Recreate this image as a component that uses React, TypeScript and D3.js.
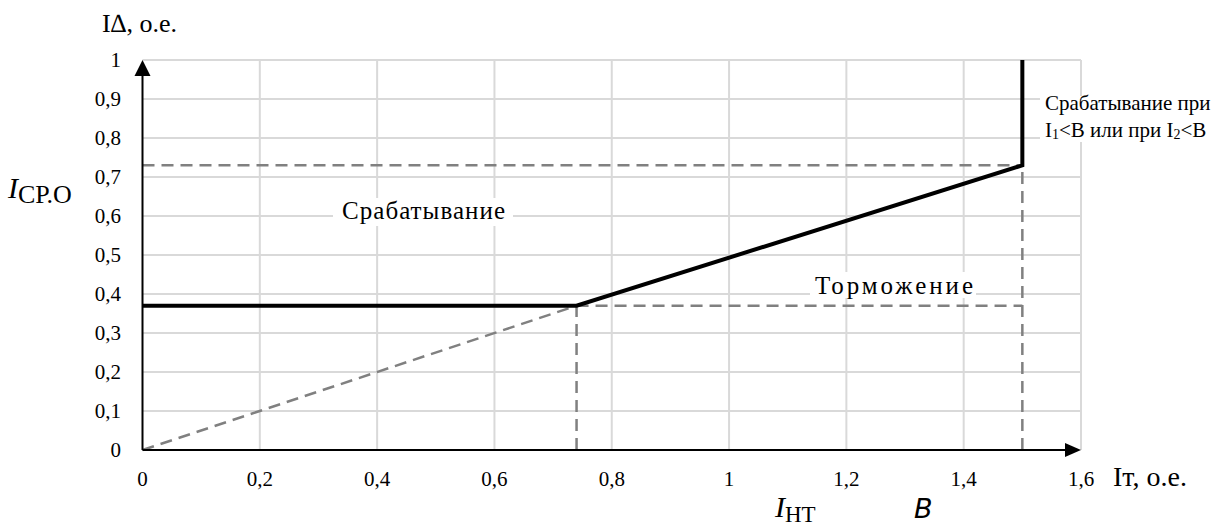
import React from "react";
import * as d3 from "d3";

const xTicks = [0, 0.2, 0.4, 0.6, 0.8, 1, 1.2, 1.4, 1.6];
const yTicks = [0, 0.1, 0.2, 0.3, 0.4, 0.5, 0.6, 0.7, 0.8, 0.9, 1];
// Characteristic (solid)
const charX = [0, 0.74, 1.5, 1.5];
const charY = [0.37, 0.37, 0.73, 1.0];
// Dashed construction lines
const slopeLine = [[0, 0], [0.74, 0.37]];
const dashH1 = [[0, 0.73], [1.5, 0.73]];
const dashH2 = [[0.74, 0.37], [1.5, 0.37]];
const dashV1 = [[0.74, 0], [0.74, 0.37]];
const dashV2 = [[1.5, 0], [1.5, 0.73]];

const W = 1214, H = 528;
const fmt = (v: number) => (v === 0 ? "0" : String(+v.toFixed(1)).replace(".", ","));
const SERIF = "Liberation Serif";
const st = (size: number, extra: any = {}) => ({ fontFamily: SERIF, fontSize: size + "px", ...extra });

export default function App() {
  const x = d3.scaleLinear().domain([0, 1.6]).range([142.5, 1081]);
  const y = d3.scaleLinear().domain([0, 1]).range([450, 60]);
  const line = d3.line<number[]>().x((d) => x(d[0])).y((d) => y(d[1]));
  const charPts = charX.map((v, i) => [v, charY[i]]);
  const dashed = [slopeLine, dashH1, dashH2, dashV1, dashV2];
  return (
    <svg width={W} height={H} style={{ position: "absolute", left: 0, top: 0, background: "#fff" }}>
      <rect x={0} y={0} width={W} height={H} fill="#fff" />
      {/* grid */}
      {xTicks.filter((t) => t > 0).map((t) => (
        <line key={"gx" + t} x1={x(t)} x2={x(t)} y1={y(1)} y2={y(0)} stroke="#d9d9d9" strokeWidth={2} />
      ))}
      {yTicks.filter((t) => t > 0).map((t) => (
        <line key={"gy" + t} x1={x(0)} x2={x(1.6)} y1={y(t)} y2={y(t)} stroke="#d9d9d9" strokeWidth={2} />
      ))}
      {/* dashed */}
      {dashed.map((d, i) => (
        <path key={"d" + i} d={line(d) || ""} fill="none" stroke="#808080" strokeWidth={2.5} strokeDasharray="12,7" />
      ))}
      {/* text boxes */}
      <rect x={333} y={y(0.6) - 18} width={180} height={28} fill="#fff" />
      <text x={342} y={y(0.6) + 3} fill="#000" style={st(25)} textLength={163} lengthAdjust="spacing">Срабатывание</text>
      <rect x={810} y={y(0.4) - 22} width={166} height={26} fill="#fff" />
      <text x={815} y={y(0.4)} fill="#000" style={st(25)} textLength={158} lengthAdjust="spacing">Торможение</text>
      <rect x={1040} y={96} width={174} height={46} fill="#fff" />
      <text x={1045} y={110} fill="#000" style={st(21)}>Срабатывание при</text>
      <text x={1045} y={137} fill="#000" style={st(21)}>
        I<tspan dy={2} style={{ fontSize: "14px" }}>1</tspan><tspan dy={-2}>&lt;B или при I</tspan><tspan dy={2} style={{ fontSize: "14px" }}>2</tspan><tspan dy={-2}>&lt;B</tspan>
      </text>
      {/* characteristic */}
      <path d={line(charPts) || ""} fill="none" stroke="#000" strokeWidth={4} strokeLinejoin="miter" />
      {/* axes */}
      <line x1={x(0)} x2={x(0)} y1={y(0)} y2={y(1) + 12} stroke="#000" strokeWidth={2} />
      <path d={`M${x(0)},${y(1)} L${x(0) - 8},${y(1) + 16} L${x(0) + 8},${y(1) + 16} Z`} fill="#000" />
      <line x1={x(0)} x2={x(1.6) - 12} y1={y(0)} y2={y(0)} stroke="#000" strokeWidth={2} />
      <path d={`M${x(1.6)},${y(0)} L${x(1.6) - 16},${y(0) - 7} L${x(1.6) - 16},${y(0) + 7} Z`} fill="#000" />
      {/* tick labels */}
      {yTicks.map((t) => (
        <text key={"ly" + t} x={121} y={y(t) + 7} textAnchor="end" fill="#000" style={st(21)}>{fmt(t)}</text>
      ))}
      {xTicks.map((t) => (
        <text key={"lx" + t} x={x(t)} y={486} textAnchor="middle" fill="#000" style={st(21)}>{fmt(t)}</text>
      ))}
      {/* axis titles */}
      <text x={102} y={32} fill="#000" style={st(26)}>I∆, o.e.</text>
      <text x={1113} y={486} fill="#000" style={st(28)}>Iт, o.e.</text>
      <text x={8} y={198} fill="#000" style={st(30, { fontStyle: "italic" })}>I<tspan dy={5} style={{ fontStyle: "normal", fontSize: "26px" }}>СР.О</tspan></text>
      <text x={775} y={517} fill="#000" style={st(30, { fontStyle: "italic" })}>I<tspan dy={5} style={{ fontStyle: "normal", fontSize: "23px" }}>НТ</tspan></text>
      <text x={914} y={518} fill="#000" style={{ fontFamily: "DejaVu Sans", fontSize: "27px", fontStyle: "italic" }}>B</text>
    </svg>
  );
}
